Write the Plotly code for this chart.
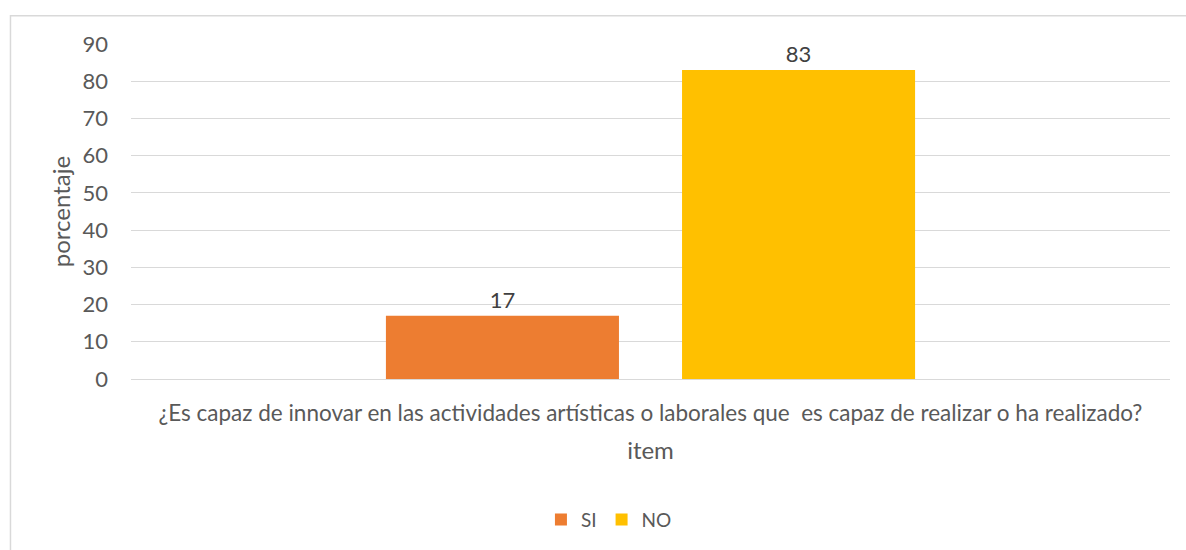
import plotly.graph_objects as go

# Survey item and answer shares (percent)
categories = ["¿Es capaz de innovar en las actividades artísticas o laborales que  es capaz de realizar o ha realizado?"]
series_names = ["SI", "NO"]
si_values = [17]
no_values = [83]
series_colors = ["#ED7D31", "#FFC000"]
y_ticks = [0, 10, 20, 30, 40, 50, 60, 70, 80, 90]

FONT = "Lato"
GRAY = "#595959"

fig = go.Figure()
for name, vals, color in zip(series_names, [si_values, no_values], series_colors):
    fig.add_trace(go.Bar(
        x=categories, y=vals, name=name,
        marker=dict(color=color, line=dict(width=0)),
        text=[str(v) for v in vals], textposition="outside",
        textfont=dict(family=FONT, size=22, color="#404040"),
        cliponaxis=False,
    ))

fig.update_layout(
    width=1186, height=550,
    margin=dict(l=131, r=16, t=44, b=171),
    paper_bgcolor="white", plot_bgcolor="white",
    barmode="group", bargap=0.43, bargroupgap=0.213,
    font=dict(family=FONT, size=22, color=GRAY),
    showlegend=True,
    legend=dict(orientation="h", x=0.46, xanchor="center", y=-0.42, yanchor="middle",
                font=dict(family=FONT, size=19, color=GRAY), itemwidth=30,
                traceorder="normal"),
    xaxis=dict(
        showgrid=False, showline=False, ticks="", ticklabelstandoff=18,
        tickfont=dict(family=FONT, size=22.5, color=GRAY),
        title=dict(text="item", font=dict(family=FONT, size=24, color=GRAY), standoff=17),
    ),
    yaxis=dict(
        range=[0, 90], tickvals=y_ticks, showgrid=True, gridcolor="#D9D9D9", gridwidth=1,
        zeroline=True, zerolinecolor="#D9D9D9", zerolinewidth=1,
        showline=False, ticks="", ticklabelstandoff=22,
        tickfont=dict(family=FONT, size=22, color=GRAY),
        title=dict(text="porcentaje", font=dict(family=FONT, size=24, color=GRAY), standoff=5),
    ),
    shapes=[dict(type="rect", xref="paper", yref="paper",
                 x0=-0.116, x1=1.2, y0=-0.8, y1=1.0845,
                 line=dict(color="#D9D9D9", width=1.5), fillcolor="rgba(0,0,0,0)", layer="below")],
)

fig.write_html("out.html")
